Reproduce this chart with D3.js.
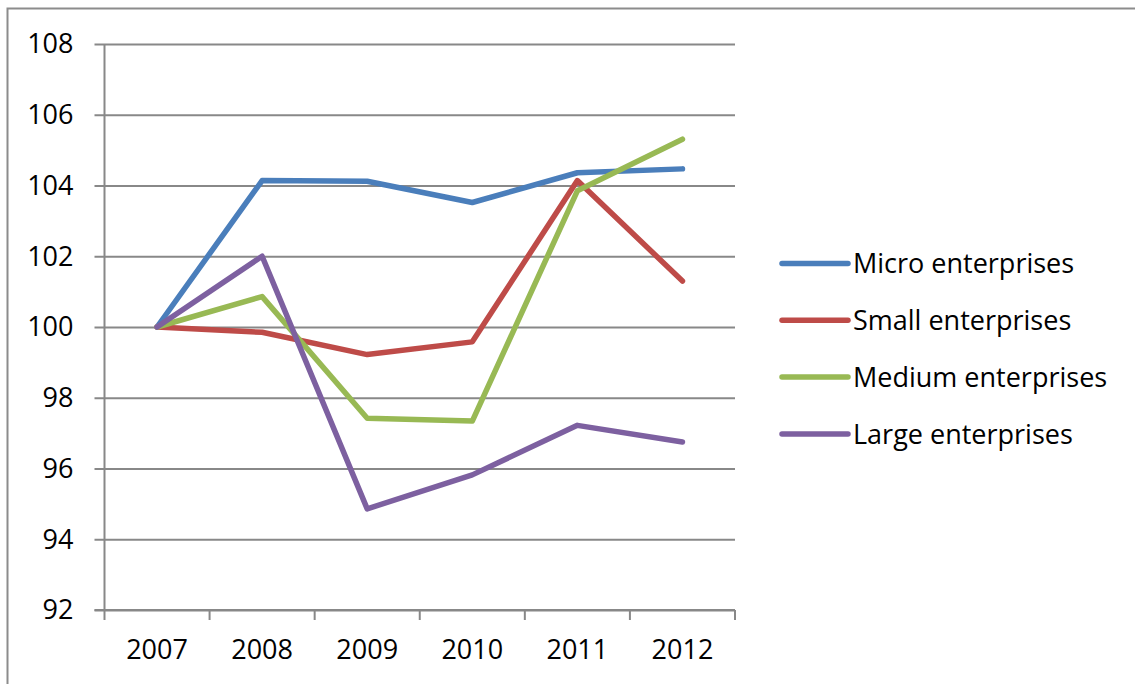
<!DOCTYPE html>
<html>
<head>
<meta charset="utf-8">
<script src="https://cdn.jsdelivr.net/npm/d3@7/dist/d3.min.js"></script>
<style>
  html, body { margin: 0; padding: 0; background: #fff; }
  svg { display: block; }
  text { font-family: "Open Sans", "DejaVu Sans", sans-serif; fill: #000; }
</style>
</head>
<body>
<svg id="chart" width="1135" height="684"></svg>
<script>
// Index values, 2007 = 100
const years = ["2007", "2008", "2009", "2010", "2011", "2012"];
const micro  = [100, 104.14, 104.12, 103.52, 104.36, 104.47];
const small  = [100, 99.85, 99.22, 99.58, 104.14, 101.30];
const medium = [100, 100.86, 97.42, 97.34, 103.85, 105.31];
const large  = [100, 102.00, 94.86, 95.82, 97.22, 96.75];
const seriesNames  = ["Micro enterprises", "Small enterprises", "Medium enterprises", "Large enterprises"];
const seriesColors = ["#4A7EBB", "#BE4B48", "#98B954", "#7D60A0"];
const yTicks = [92, 94, 96, 98, 100, 102, 104, 106, 108];

const series = [micro, small, medium, large].map((values, i) => ({
  name: seriesNames[i], color: seriesColors[i], values
}));

const svg = d3.select("#chart");
const plot = { left: 104.5, right: 735, top: 44, bottom: 610 };

// outer frame
svg.append("rect")
  .attr("x", 7.5).attr("y", 8.5)
  .attr("width", 1140).attr("height", 700)
  .attr("fill", "none").attr("stroke", "#8c8c8c").attr("stroke-width", 2);

const x = d3.scaleBand().domain(years).range([plot.left, plot.right]);
const y = d3.scaleLinear().domain([92, 108]).range([plot.bottom, plot.top]);

const gridColor = "#888888";

// horizontal gridlines with left tick marks
const yAxis = svg.append("g")
  .attr("transform", `translate(${plot.left},0)`)
  .call(d3.axisLeft(y).tickValues(yTicks).tickFormat(d3.format("d"))
    .tickSize(-(plot.right - plot.left)).tickPadding(20));
yAxis.select(".domain").remove();
yAxis.selectAll(".tick line")
  .attr("stroke", gridColor).attr("stroke-width", 2)
  .attr("x1", -10);
yAxis.selectAll(".tick text")
  .attr("font-size", 27).attr("font-family", "Open Sans, sans-serif")
  .attr("fill", "#000").attr("x", -31).attr("dy", "0.33em");

// vertical axis line
svg.append("line")
  .attr("x1", plot.left).attr("x2", plot.left)
  .attr("y1", plot.top).attr("y2", plot.bottom)
  .attr("stroke", gridColor).attr("stroke-width", 2);

// category axis with tick marks at band boundaries
const xg = svg.append("g");
xg.append("line")
  .attr("x1", plot.left - 10).attr("x2", plot.right)
  .attr("y1", plot.bottom).attr("y2", plot.bottom)
  .attr("stroke", gridColor).attr("stroke-width", 2);
const boundaries = years.map(d => x(d)).concat([x(years[years.length - 1]) + x.bandwidth()]);
xg.selectAll("line.tk").data(boundaries).join("line")
  .attr("class", "tk")
  .attr("x1", d => d).attr("x2", d => d)
  .attr("y1", plot.bottom).attr("y2", plot.bottom + 10)
  .attr("stroke", gridColor).attr("stroke-width", 2);
xg.selectAll("text").data(years).join("text")
  .attr("x", d => x(d) + x.bandwidth() / 2)
  .attr("y", 650)
  .attr("dy", "0.35em")
  .attr("text-anchor", "middle")
  .attr("font-size", 27)
  .text(d => d);

// series lines
const line = d3.line()
  .x((d, i) => x(years[i]) + x.bandwidth() / 2)
  .y(d => y(d));

svg.append("g").selectAll("path").data(series).join("path")
  .attr("d", d => line(d.values))
  .attr("fill", "none")
  .attr("stroke", d => d.color)
  .attr("stroke-width", 5.5)
  .attr("stroke-linejoin", "round")
  .attr("stroke-linecap", "round");

// legend
const legend = svg.append("g").selectAll("g").data(series).join("g")
  .attr("transform", (d, i) => `translate(782,${263.5 + i * 56.8})`);
legend.append("line")
  .attr("x1", 0).attr("x2", 66)
  .attr("stroke", d => d.color).attr("stroke-width", 5.5)
  .attr("stroke-linecap", "round");
legend.append("text")
  .attr("x", 71).attr("dy", "0.36em")
  .attr("font-size", 27)
  .text(d => d.name);
</script>
</body>
</html>
